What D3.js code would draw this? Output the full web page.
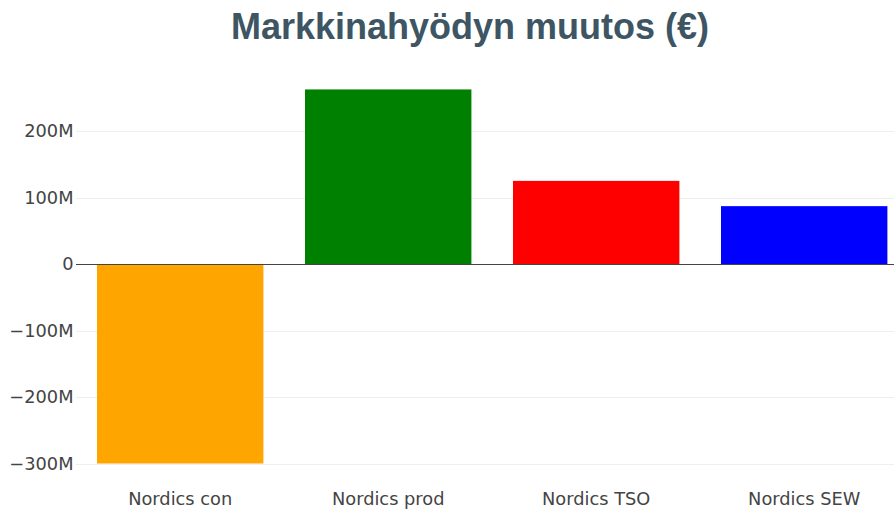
<!DOCTYPE html>
<html>
<head>
<meta charset="utf-8">
<script src="https://cdn.jsdelivr.net/npm/d3@7"></script>
<style>
  html, body { margin: 0; padding: 0; background: #fff; }
  svg { display: block; }
</style>
</head>
<body>
<svg id="chart" width="894" height="509"></svg>
<script>
const categories = ["Nordics con", "Nordics prod", "Nordics TSO", "Nordics SEW"];
const values = [-300e6, 262.5e6, 125e6, 87e6];
const barColors = ["#FFA500", "#008000", "#FF0000", "#0000FF"];
const yTicks = [-300e6, -200e6, -100e6, 0, 100e6, 200e6];
const title = "Markkinahyödyn muutos (€)";

const svg = d3.select("#chart");
const W = 894, H = 509;

const x = d3.scaleBand()
  .domain(categories)
  .range([76.2, 908.2])
  .paddingInner(0.2)
  .paddingOuter(0.1);

const y = d3.scaleLinear()
  .domain([-300e6, 200e6])
  .range([463.5, 131]);

const fmt = d3.format("~s");

// gridlines
svg.append("g")
  .selectAll("line")
  .data(yTicks.filter(d => d !== 0))
  .join("line")
  .attr("x1", 76).attr("x2", W)
  .attr("y1", d => Math.round(y(d)) + 0.5)
  .attr("y2", d => Math.round(y(d)) + 0.5)
  .attr("stroke", "#eeeeee")
  .attr("stroke-width", 1);

// bars
svg.append("g")
  .selectAll("rect")
  .data(categories)
  .join("rect")
  .attr("x", d => x(d))
  .attr("width", x.bandwidth())
  .attr("y", (d, i) => Math.min(y(values[i]), y(0)))
  .attr("height", (d, i) => Math.abs(y(values[i]) - y(0)))
  .attr("fill", (d, i) => barColors[i]);

// zero line
svg.append("line")
  .attr("x1", 76).attr("x2", W)
  .attr("y1", Math.round(y(0)) + 0.5)
  .attr("y2", Math.round(y(0)) + 0.5)
  .attr("stroke", "#444")
  .attr("stroke-width", 1);

// y axis labels
svg.append("g")
  .selectAll("text")
  .data(yTicks)
  .join("text")
  .attr("x", 73.5)
  .attr("y", d => y(d))
  .attr("dy", "0.36em")
  .attr("text-anchor", "end")
  .attr("font-family", "'DejaVu Sans', Verdana, sans-serif")
  .attr("font-size", 17.8)
  .attr("fill", "#444")
  .text(d => fmt(d));

// x axis labels
svg.append("g")
  .selectAll("text")
  .data(categories)
  .join("text")
  .attr("x", d => x(d) + x.bandwidth() / 2)
  .attr("y", 505)
  .attr("text-anchor", "middle")
  .attr("font-family", "'DejaVu Sans', Verdana, sans-serif")
  .attr("font-size", 17.8)
  .attr("fill", "#444")
  .text(d => d);

// title
svg.append("text")
  .attr("x", 470)
  .attr("y", 39)
  .attr("text-anchor", "middle")
  .attr("font-family", "'Liberation Sans', Arial, sans-serif")
  .attr("font-weight", "bold")
  .attr("font-size", 36)
  .attr("fill", "#3e5563")
  .text(title);
</script>
</body>
</html>
